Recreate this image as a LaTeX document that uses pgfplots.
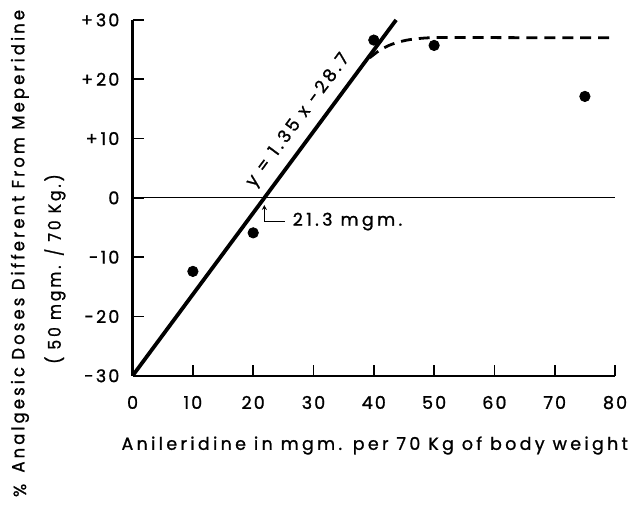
\documentclass[border=0pt]{standalone}
\usepackage{fontspec}
\setmainfont{Poppins}[LetterSpace=19, FakeBold=1.1]
\usepackage{pgfplots}
\pgfplotsset{compat=1.18}
\usetikzlibrary{arrows.meta}
\begin{document}
\fontsize{8.8}{10}\selectfont
\begin{tikzpicture}
\begin{axis}[
  scale only axis, width=242pt, height=178.5pt,
  xmin=0, xmax=80, ymin=-30, ymax=30,
  axis x line=bottom, axis y line=left,
  axis line style={-, line width=1.1pt},
  tick align=inside, major tick length=5.5pt,
  tick style={line width=0.9pt, black},
  xtick={0,10,...,80},
  ytick={-30,-20,...,30},
  yticklabels={-30,-20,-10,0,+\,10,+\,20,+\,30},
  /pgf/number format/assume math mode=true,
  ticklabel style={font=\fontsize{8.8}{10}\selectfont\addfontfeature{LetterSpace=12}},
  yticklabel style={xshift=-3.5pt},
  xticklabel style={yshift=-7pt},
  clip=false,
]
% zero line
\addplot[black, line width=0.6pt] coordinates {(0,0) (80,0)};
% regression line
\addplot[black, line width=1.9pt] coordinates {(0,-30) (43.7,30)};
% dashed plateau curve
\addplot[black, line width=1.4pt, dash pattern=on 5.5pt off 3.5pt, smooth] coordinates {
 (39.3,23.6) (41,24.9) (43,25.9) (45.5,26.6) (48.5,26.95) (52,27.05) (60,27.02) (70,27) (80,27)};
% data points
\addplot[only marks, mark=*, mark size=2.6pt, black] coordinates {
 (10,-12.4) (20,-5.9) (40,26.6) (50,25.7) (75,17.1)};
% annotations
\node[rotate=53.5, anchor=center] at (axis cs:27.5,13.0) {y = 1.35 x -28.7};
\draw[line width=0.6pt, -{Stealth[length=2.5pt,width=2.5pt]}] (axis cs:25.2,-4.0) -- (axis cs:21.85,-4.0) -- (axis cs:21.85,-1.2);
\node[anchor=west, inner sep=0pt] at (axis cs:26.5,-4.0) {21.3 mgm.};
% labels
\node[inner sep=0pt] at (rel axis cs:0.502,-0.196) {\resizebox{254pt}{\height}{Anileridine in mgm. per 70 Kg of body weight}};
\node[rotate=90, inner sep=0pt] at (rel axis cs:-0.2335,-0.322) {\%};
\node[rotate=90, inner sep=0pt] at (rel axis cs:-0.2335,0.378) {\resizebox{232pt}{\height}{Analgesic Doses Different From Meperidine}};
\node[rotate=90, inner sep=0pt] at (rel axis cs:-0.161,0.30) {\resizebox{95pt}{\height}{( 50 mgm. / 70 Kg.)}};
% bounding box
\path (rel axis cs:-0.2748,-0.3838) rectangle (rel axis cs:1.0331,1.056);
\end{axis}
\end{tikzpicture}
\end{document}
